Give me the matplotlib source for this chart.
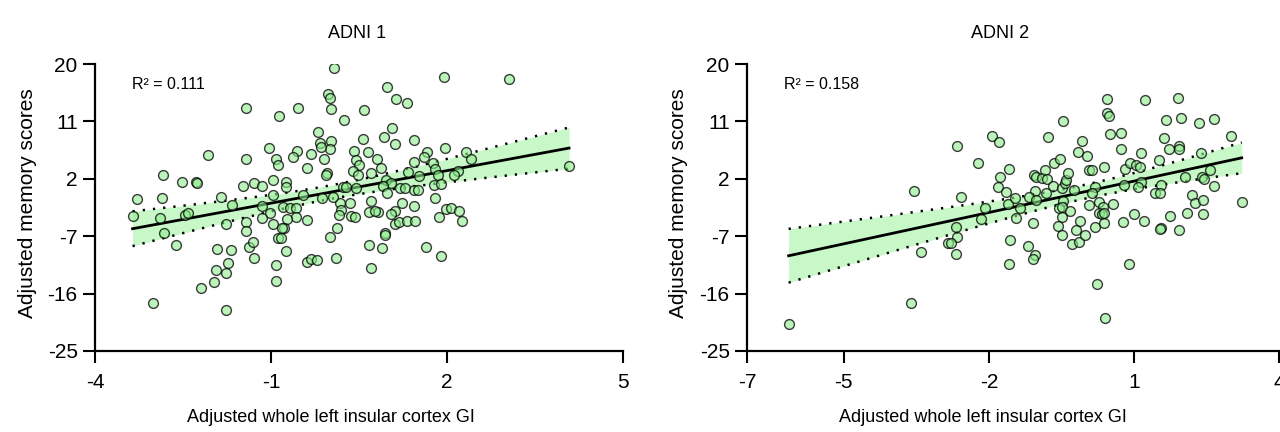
import numpy as np
import matplotlib
matplotlib.use('Agg')
import matplotlib.pyplot as plt

plt.rcParams['font.family'] = ['Liberation Sans', 'DejaVu Sans']
plt.rcParams['axes.unicode_minus'] = False

# ---------------- data ----------------
adni1_x = [-3.36, -3.28, -2.84, -2.86, -2.89, -2.82, -2.62, -3.01, -2.51, -2.27, -2.26, -2.46, -2.41, -2.08,
           -1.85, -1.66, -1.77, -1.92, -1.68, -1.73, -1.77, -1.94, -1.97, -2.19, -1.77, -1.43, -1.42, -1.47,
           -1.29, -1.16, -1.42, -1.43, -1.37, -1.30, -1.29, -1.03, -1.15, -1.02, -1.15,
           0.08, -0.03, 0.00, 0.02, -0.54, -0.86, 0.24, 0.59, 0.98, 1.13, 1.32, -0.20, -0.17, 0.02, 0.00,
           -0.14, -0.55, -0.62, -0.31, -0.92, -0.88, -0.09, -0.39, -0.05, 0.42, 0.57, 0.65, 0.80, 0.45, 0.50,
           0.40, 0.49, 0.71, 0.88, 0.93, 1.07, 1.11, 1.44, 1.43, 1.34, 0.96, 1.05, 0.91, 1.20, 1.28, 1.43,
           0.97, 0.70, 1.24, 1.43, 1.11, 1.05, 0.83, 0.67, 0.77, 1.12, 1.18, 1.32, 1.46, 0.94, 0.95, 0.67,
           0.90, 0.71, 0.12, 0.00, 0.11, 0.17, 0.19, 0.16, 0.34, 0.36, 0.44, 0.22, 0.28, 0.45, 0.05, -0.13,
           -0.45, -0.74, -0.75, -0.96, -0.96, -0.80, -0.68, -0.58, -0.57, -0.39, -0.72, -0.96, -0.78, -0.82,
           -0.88, -0.83, -0.74, -0.92, -0.92, -0.39, -0.31, -0.22, -0.07,
           1.95, 3.06, 1.97, 1.66, 1.61, 2.32, 2.41, 1.76, 1.80, 1.84, 2.19, 2.12, 1.52, 1.51, 1.78, 1.89,
           1.79, 1.99, 2.06, 2.21, 1.86, 2.26, 1.65, 1.89, 4.08]
adni1_y = [-3.77, -1.21, 2.65, -1.00, -4.09, -6.54, -8.32, -17.5, 1.50, 1.45, 1.40, -3.67, -3.41, 5.68,
           -0.80, -2.10, -5.03, -9.00, -9.20, -11.24, -12.81, -12.29, -14.22, -15.16, -18.56, 13.15, 5.11, 0.93,
           1.29, 0.93, -4.71, -6.12, -8.63, -7.85, -10.36, 6.78, -2.21, -3.41, -4.09,
           19.32, 15.25, 14.62, 12.95, 13.16, 11.85, 11.23, 12.79, 16.45, 14.52, 13.84, 9.40, 7.67, 7.99, 6.63,
           6.94, 6.37, 5.37, 5.84, 5.06, 4.17, 5.06, 3.65, 2.97, 6.42, 8.20, 6.16, 5.11, 4.96, 4.17,
           3.23, 2.61, 2.97, 3.65, 8.51, 9.92, 7.46, 8.09, 4.69, 3.13, 1.82, 1.30, 0.93, 0.51, 0.62, 0.25,
           -0.27, -1.42, -1.84, -2.20, -2.99, -3.51, -3.14, -3.25, -3.04, -5.13, -4.71, -4.60, -4.60, -6.54, -6.80, -8.37,
           -8.79, -12.02, -5.65, -7.06, -10.35, -1.73, -2.88, -3.66, -1.73, -3.82, -3.93, 0.67, 0.78, 0.62, -0.79, -1.05,
           -0.53, 1.56, 0.78, -0.53, 1.82, -2.36, -2.62, -2.52, -3.93, -4.45, -4.34, -5.13, -5.65, -5.76,
           -7.22, -7.22, -9.31, -11.45, -13.96, -10.98, -10.56, -10.72, 2.66,
           18.02, 17.65, 6.89, 6.26, 5.48, 6.16, 5.06, 4.43, 3.55, 2.61, 3.28, 2.61, 2.45, 0.25, 1.04, 1.14,
           -1.05, -2.78, -2.62, -2.99, -4.03, -4.60, -8.63, -10.04, 4.02]

adni2_x = [-6.14, -3.55, -3.41, -3.61,
           -2.65, -2.22, -2.57, -2.08, -2.17, -2.67, -2.65, -2.84, -2.79, -2.68, -1.94, -1.79, -1.58, -1.76,
           -1.82, -1.65, -1.61, -1.45, -1.36, -1.43, -1.56, -1.58, -1.20, -1.05, -1.09, -1.08, -1.05, -1.16,
           -1.03, -1.06, -1.03, -0.91, -0.83, -0.79, -0.78, -0.65, -0.52, -0.46, -0.67, -0.81, -0.49, -0.43,
           -0.40, -0.37, -0.23, -0.46, -0.54, -0.49, -0.32, -0.49, -0.56, -0.49, -0.20, -0.11, -0.27, -0.13,
           -0.01, -0.07, -0.15, 0.02,
           0.44, 1.22, 1.91, 0.45, 0.49, 0.51, 0.73, 1.67, 1.97, 2.34, 2.65, 3.01, 1.63, 1.72, 1.94, 1.94,
           2.39, 0.73, 1.15, 1.52, 0.07, 0.14, 0.39, 0.82, 0.91, 1.05, 1.13, 1.15, 1.09, 0.80, 0.20, 0.13,
           0.07, 0.28, 0.37, 0.56, 0.27, 0.34, 0.38, 0.20, 0.39, 0.78, 1.01, 1.21, 1.56, 1.43, 1.54, 1.56,
           1.54, 1.75, 1.94, 2.05, 2.41, 2.45, 2.58, 2.65, 2.20, 2.27, 2.43, 2.10, 2.43, 3.23, 0.90, 0.23, 0.40]
adni2_y = [-20.75, 0.15, -9.52, -17.51,
           7.15, 4.43, -0.79, -2.52, -4.29, -5.60, -7.06, -8.11, -8.11, -9.83, 8.72, 7.72, 3.49, 2.34,
           0.78, -0.01, -1.99, -1.05, -2.62, -4.08, -7.58, -11.35, -8.52, -9.93, -10.61, -4.87, 0.15, -0.90,
           -1.31, 2.60, 2.24, 2.08, 3.39, 1.93, 8.51, 4.43, 5.11, 11.07, 0.88, -0.16, 0.51, 1.30,
           1.82, 2.87, 0.25, -1.42, -2.52, -2.36, -2.99, -3.93, -5.34, -6.80, -6.02, -4.60, -8.21, -7.85,
           -6.80, 7.99, 6.16, 5.58,
           14.52, 14.36, 14.73, 12.27, 11.85, 9.03, 9.24, 11.23, 11.49, 10.70, 11.33, 8.72, 8.46, 6.63, 7.15, 6.63,
           6.00, 6.63, 6.00, 4.96, 3.39, 3.39, 3.91, 3.49, 4.43, 4.17, 3.91, 1.46, 0.67, 1.04, 0.78, -0.27,
           -2.10, -1.58, -2.36, -1.99, -3.30, -3.51, -3.40, -5.49, -4.97, -4.81, -3.51, -4.60, 1.04, -0.16, -0.16, -5.75,
           -5.85, -3.77, -6.02, 2.24, 2.24, 1.98, 3.39, 0.88, -0.53, -1.73, -1.31, -3.30, -3.51, -1.58, -11.35, -14.48, -19.76]

titles = ['ADNI 1', 'ADNI 2']
r2_labels = ['R\u00b2 = 0.111', 'R\u00b2 = 0.158']
x_ticks = [[-4, -1, 2, 5], [-7, -5, -2, 1, 4]]
y_ticks = [-25, -16, -7, 2, 11, 20]
x_label = 'Adjusted whole left insular cortex GI'
y_label = 'Adjusted memory scores'

# ---------------- figure ----------------
fig = plt.figure(figsize=(12.8, 4.32), dpi=100)
ax1 = fig.add_axes([95 / 1280, 81 / 432, 528 / 1280, 287 / 432])
ax2 = fig.add_axes([747 / 1280, 81 / 432, 532 / 1280, 287 / 432])

point_fc = (0.55, 0.93, 0.55, 0.6)
point_ec = (0, 0, 0, 0.75)
band_c = '#c8f8c8'


def panel(ax, x, y, title, r2, xt, title_x, xlab_x):
    x = np.asarray(x, float)
    y = np.asarray(y, float)
    n = len(x)
    b, a = np.polyfit(x, y, 1)
    res = y - (a + b * x)
    s = np.sqrt(np.sum(res ** 2) / (n - 2))
    xm = x.mean()
    sxx = np.sum((x - xm) ** 2)
    xs = np.linspace(x.min(), x.max(), 200)
    fit = a + b * xs
    half = 1.976 * s * np.sqrt(1.0 / n + (xs - xm) ** 2 / sxx)
    ax.fill_between(xs, fit - half, fit + half, color=band_c, lw=0, zorder=1)
    ax.plot(xs, fit - half, color='k', lw=1.8, ls=(0, (0.9, 3.2)), zorder=2)
    ax.plot(xs, fit + half, color='k', lw=1.8, ls=(0, (0.9, 3.2)), zorder=2)
    ax.plot(xs, fit, color='k', lw=2.0, zorder=2)
    ax.scatter(x, y, s=50, facecolor=point_fc, edgecolor=point_ec, linewidth=1.0, zorder=3)

    ax.set_xlim(xt[0], xt[-1])
    ax.set_ylim(-25, 20)
    ax.set_xticks(xt)
    ax.set_yticks(y_ticks)
    for sp in ['top', 'right']:
        ax.spines[sp].set_visible(False)
    for sp in ['left', 'bottom']:
        ax.spines[sp].set_linewidth(1.6)
    ax.tick_params(direction='out', length=8.5, width=1.5, labelsize=15, pad=4)
    ax.tick_params(axis='x', pad=7)

    ax.set_title(title, fontsize=13, pad=19, x=title_x)
    ax.text(0.07, 0.93, r2, transform=ax.transAxes, fontsize=11.5,
            ha='left', va='center')
    ax.set_xlabel(x_label, fontsize=13)
    ax.xaxis.set_label_coords(xlab_x, -0.233)
    ax.xaxis.label.set_va('center')
    ax.set_ylabel(y_label, fontsize=15)
    ax.yaxis.set_label_coords(-0.128, 0.516)
    ax.yaxis.label.set_va('center')


panel(ax1, adni1_x, adni1_y, titles[0], r2_labels[0], x_ticks[0], 0.496, 0.447)
panel(ax2, adni2_x, adni2_y, titles[1], r2_labels[1], x_ticks[1], 0.476, 0.444)

fig.savefig('out.png', dpi=100)
